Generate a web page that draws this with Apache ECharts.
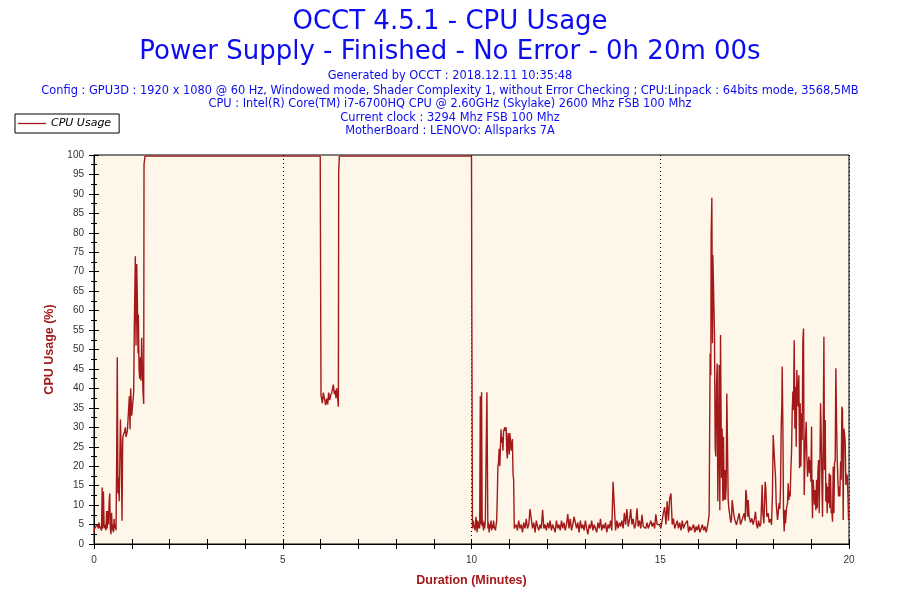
<!DOCTYPE html>
<html>
<head>
<meta charset="utf-8">
<script src="https://cdn.jsdelivr.net/npm/echarts@6/dist/echarts.min.js"></script>
<style>html,body{margin:0;padding:0;background:#fff}#chart{width:900px;height:600px}</style>
</head>
<body>
<div id="chart"></div>
<script>
// ---- Text ----
const mainTitle = 'OCCT 4.5.1 - CPU Usage';
const subTitle = 'Power Supply - Finished - No Error - 0h 20m 00s';
const infoLines = [
  'Generated by OCCT : 2018.12.11 10:35:48',
  'Config : GPU3D : 1920 x 1080 @ 60 Hz, Windowed mode, Shader Complexity 1, without Error Checking ; CPU:Linpack : 64bits mode, 3568,5MB',
  'CPU : Intel(R) Core(TM) i7-6700HQ CPU @ 2.60GHz (Skylake) 2600 Mhz FSB 100 Mhz',
  'Current clock : 3294 Mhz FSB 100 Mhz',
  'MotherBoard : LENOVO: Allsparks 7A'
];
const seriesName = 'CPU Usage';
const xAxisName = 'Duration (Minutes)';
const yAxisName = 'CPU Usage (%)';
const xLabelMinutes = [0, 5, 10, 15, 20];

// ---- Data: [seconds, CPU usage %] ----
const rampUp = [[0,3],[1,4],[2,3.5],[3,4.5],[4,4],[5,5],[6,4.5],[7,4],[8,5.5],[9,4.5],[10,4],[11,4.5],[12,3.5],[13,14.5],[14,4],[15,13.5],[16,5],[17,4],[18,5],[19,3.5],[20,8.5],[21,4],[22,8.5],[23,5],[24,10.5],[25,13],[26,4],[27,2.5],[28,8],[29,3.5],[30,5],[31,3],[32,6.5],[33,4],[34,5],[35,3.5],[36,21],[37,48],[38,13],[39,17],[40,11],[41,20],[42,32],[43.5,22],[44.5,6],[45.6,27],[46.6,28],[47.7,27.5],[48.8,29],[49.8,30],[50.9,27.5],[52,28],[53,29],[54,29.5],[55,29],[56.2,38],[57.3,29.5],[58.3,40],[59.9,33],[61.5,36],[63.1,39],[64.1,56],[65.7,74],[66.8,51],[67.9,72],[68.9,63],[70,49],[70.5,59],[71.6,45],[72.6,42.5],[73.7,48],[74.7,42],[75.8,53],[76.9,45],[77.9,39],[79,36],[79.5,97.5],[81,99.7]];
const loadA = [[200,99.7],[359.6,99.7],[359.7,91]];
const dipB = [[360.8,38.3],[361.9,38.3],[362.9,36.2],[364.5,38.9],[366.1,37.5],[368.2,35.7],[369.8,37.4],[371.4,35.9],[373,38.9],[374.6,37],[376.2,38.3],[377.8,38.9],[379.3,40],[380.4,41],[382,38.5],[383.6,39.5],[384.6,37.5],[385.7,40],[387.3,37.5],[388.4,35.3],[388.9,95.7],[390,99.7]];
const loadC = [[500,99.7],[600,99.7],[600.5,61],[601.5,4]];
const afterLoad = [[603,6],[604,4.5],[605,5],[606,3.5],[607,7],[608,5.5],[609,3],[610,6],[611,4],[612,5.5],[613,4],[614,38],[615,5],[616,39],[617,4.5],[618,6],[619,3.5],[620,5.5],[621,4],[622,6],[623,20],[624.5,39],[626,4],[627,5.5],[628,3],[629,5],[630,4],[631,6],[632,3.5],[633,5],[634,4],[635,6],[636,4.5],[637,5],[638,3.5],[639,4],[640,6],[641,12],[642,20],[643,21],[644,24.5],[645,20],[646,25],[647,29.5],[648,26],[649,27.5],[650,24],[651,29],[652,28.5],[653,30],[654,29],[655,30],[656,24],[657,22],[658,28.5],[659,27],[660,23],[661,28.5],[662,28],[663,24],[664,26],[665,27],[666,18],[667,16.5],[668,4]];
const idle = [[669,4],[671,5],[673,3.5],[675,6],[677,4],[679,5],[681,3],[683,5.5],[685,4],[687,6.5],[689,4],[691,5],[693,9],[695,8.5],[697,4],[699,5.5],[701,3],[703,6],[705,4.5],[707,3.5],[709,5],[711,4],[713,8.8],[715,4],[717,5],[719,3.5],[721,5.5],[723,4],[725,6],[727,3.5],[729,5],[731,4.5],[733,3],[735,6],[737,4],[739,5],[741,3.5],[743,6],[745,4],[747,5.5],[749,3.5],[751,5],[753,7.7],[755,4],[757,6.5],[759,3.5],[761,5],[763,7],[765,7.5],[767,4],[769,5.5],[771,3],[773,6],[775,4],[777,5],[779,3.5],[781,6],[783,4],[785,2.5],[787,5],[789,4],[791,6],[793,3.5],[795,5],[797,4.5],[799,3],[801,5.5],[803,4],[805,6.5],[807,3.5],[809,5],[811,4],[813,5.5],[815,3],[817,5],[819,4],[821,6],[823,3.5],[825,16],[827,15.5],[829,3.5],[831,6],[833,4],[835,5.5],[837,4.5],[839,6],[841,4],[843,8],[845,5],[847,9],[849,4.5],[851,6],[853,9],[855,5],[857,6.5],[859,4],[861,5],[863,9.2],[865,4.5],[867,6],[869,4],[871,7.5],[873,4.5],[875,5],[877,4],[879,5.5],[881,4],[883,5],[885,6],[887,4.5],[889,5.5],[891,4],[893,7.6],[895,5],[897,4.5],[899,5],[901,4],[903,6],[905,8],[907,9.5],[909,5],[911,11],[913,6],[915,11.7],[917,13],[919,5],[921,6.5],[923,4],[925,5],[927,6],[929,4],[931,5.5],[933,3.5],[935,6],[937,4],[939,5],[941,4.5],[943,6],[945,3],[947,4.5],[949,3.5],[951,4],[953,5],[955,3],[957,4.5],[959,3.5],[961,5],[963,3],[965,4],[967,5],[969,3.5],[971,4.5],[973,3],[975,4.5],[977.7,7.5]];
const burst = [[979.3,49],[980.4,43.4],[980.9,79],[982,89],[983,51.6],[983.6,74.3],[985.2,74],[986.2,54],[987.3,25],[988.3,22.5],[989.4,41],[990.5,46.4],[991.5,11],[992.6,26],[993.6,46],[994.7,8.7],[995.8,53.7],[996.8,54],[997.4,17],[998.4,29.7],[999.5,11],[1000.5,27.6],[1001.6,11.4],[1002.7,19],[1003.7,11.4],[1004.8,14.7],[1005.8,38.7],[1006.9,38.3],[1008,11.3],[1009,9.2],[1010.1,7.9],[1011.1,6.6],[1012.2,5.5],[1013.3,6.6],[1014.3,11.3],[1015.9,11.3],[1017,7.5],[1018.6,6.2],[1021.2,4.9],[1023.9,4.5],[1025.4,7.9],[1027.6,5],[1029.2,5.3],[1030.7,4.5],[1033.4,7.9],[1035,6],[1036,13.9],[1037.1,12.6],[1038.7,7],[1039.8,11.3],[1041.3,7],[1043.5,5.5],[1045.6,6.6],[1047.7,5],[1049.8,6.5],[1051.4,8.3],[1053,5],[1054.6,4],[1056.2,6],[1058.3,4.5],[1059.9,5.3],[1062,15.2],[1063.1,7.9],[1064.7,5.3],[1066.8,16],[1067.8,14.3],[1069.4,7],[1071.6,7.9],[1073.1,5.5],[1075.3,6.4],[1076.9,4.9],[1078.4,13.5],[1079.5,28],[1081.1,28],[1082.2,19.9],[1083.2,17.3],[1084.3,10.5],[1085.3,10.5],[1086.4,6.2],[1087.5,5.8],[1089,10.5],[1090.1,9],[1091.2,14.7],[1092.2,29.7],[1093.3,36.2],[1093.8,45.6],[1094.9,30.2],[1095.9,7.9],[1097,3.2],[1098.1,8.7],[1099.1,5.3],[1100.7,9.2],[1102.3,10.5],[1103.4,15.6],[1104.4,11.3],[1105.5,13.5],[1106.5,12.2],[1107.6,19],[1108.7,23.7],[1109.7,33.6],[1110.8,39.2],[1111.8,34.4],[1112.9,52.4],[1114,29.7],[1115,40.4],[1116.1,25],[1117.1,44.7],[1118.2,38.7],[1119.3,35.3],[1120.3,43.4],[1121.4,19.5],[1122.4,36.2],[1123.5,19.9],[1124.6,33.6],[1125.6,26.7],[1126.7,52.4],[1127.7,55.4],[1128.8,12.6],[1129.9,21.6],[1130.9,27.5],[1132,31.4],[1133,22.5],[1134.1,17.3],[1135.2,19.9],[1136.2,22.5],[1137.3,18.2],[1138.3,21.6],[1139.4,16],[1140.5,30.2],[1141,16],[1142,6.6],[1143.1,16.5],[1144.2,13],[1145.2,10.1],[1146.3,13.9],[1147.3,8.7],[1148.4,16.5],[1149.5,9.2],[1150.5,18.2],[1151.6,21.6],[1152.6,7.9],[1153.7,19.9],[1154.8,36.2],[1155.8,28.4],[1156.9,16],[1157.9,7],[1159,26.3],[1160.1,53.3],[1161.1,19],[1162.2,31.9],[1163.2,10.9],[1164.3,15.6],[1165.4,7.9],[1166.4,14.7],[1167.5,10.5],[1168.5,18.2],[1169.6,9.2],[1170.7,17.8],[1171.7,7.9],[1172.8,8.7],[1173.8,5.7],[1174.9,19.9],[1176,7.9],[1177,20.8],[1178.1,21.6],[1179.1,45.2],[1180.2,31.9],[1181.3,21.6],[1182.3,16.5],[1183.4,12.2],[1184.4,14.7],[1185.5,12.2],[1186.6,21.2],[1187.6,16.5],[1188.7,35.3],[1189.7,34.4],[1190.8,6.2],[1191.9,29.7],[1192.9,28.4],[1194,25.9],[1195,15.2],[1196.1,18],[1197.2,17.3],[1198.2,13],[1199.3,6.2]];

const trace = [].concat(rampUp, loadA, dipB, loadC, afterLoad, idle, burst)
  .map(p => [p[0] / 60, p[1]]);

const chart = echarts.init(document.getElementById('chart'));
const blue = '#0c0cf0';
const red = '#a31919';
const axisBlack = '#000';
const titles = [
  { text: mainTitle, left: 'center', top: 9, padding: 0,
    textStyle: { color: blue, fontSize: 26, fontWeight: 'normal', fontFamily: 'DejaVu Sans' } },
  { text: subTitle, left: 'center', top: 39, padding: 0,
    textStyle: { color: blue, fontSize: 26, fontWeight: 'normal', fontFamily: 'DejaVu Sans' } }
];
const infoTops = [70.5, 85.5, 98.5, 112.5, 125.5];
infoLines.forEach((t, i) => titles.push({
  text: t, left: 'center', top: infoTops[i], padding: 0,
  textStyle: { color: blue, fontSize: 11.4, fontWeight: 'normal', fontFamily: 'DejaVu Sans' }
}));

const tickLabelStyle = { color: '#333', fontSize: 10, fontFamily: 'Liberation Sans' };
const nameStyle = { color: red, fontSize: 12.5, fontWeight: 'bold', fontFamily: 'Liberation Sans' };

chart.setOption({
  animation: false,
  backgroundColor: '#fff',
  title: titles,
  legend: {
    data: [{ name: seriesName, icon: 'rect', itemStyle: { color: red, borderWidth: 0 } }],
    left: 15, top: 114, orient: 'horizontal',
    backgroundColor: '#fff', borderColor: '#000', borderWidth: 1, borderRadius: 0,
    padding: [4, 8, 4, 3], itemWidth: 28, itemHeight: 1.3, itemGap: 5,
    textStyle: { color: '#000', fontSize: 11, fontStyle: 'italic', fontFamily: 'DejaVu Sans' }
  },
  grid: { left: 94, right: 51, top: 155, bottom: 56, show: true,
    backgroundColor: '#fef7e9', borderColor: '#000', borderWidth: 1, containLabel: false },
  xAxis: [
    { type: 'value', min: 0, max: 20, interval: 1, position: 'bottom',
      name: xAxisName, nameLocation: 'middle', nameGap: 30, nameTextStyle: nameStyle,
      axisLine: { show: true, lineStyle: { color: axisBlack, width: 1 } },
      axisTick: { show: true, length: 5, inside: false, lineStyle: { color: axisBlack } },
      axisLabel: { margin: 11, ...tickLabelStyle,
        formatter: v => xLabelMinutes.indexOf(v) >= 0 ? String(v) : '' },
      splitLine: { show: false } },
    { type: 'value', min: 0, max: 20, interval: 1, position: 'bottom',
      axisLine: { show: false }, axisLabel: { show: false },
      axisTick: { show: true, length: 5, inside: true, lineStyle: { color: axisBlack } },
      splitLine: { show: false } },
    { type: 'value', min: 0, max: 20, interval: 5, position: 'bottom',
      axisLine: { show: false }, axisLabel: { show: false }, axisTick: { show: false },
      splitLine: { show: true, lineStyle: { color: '#000', type: [1, 3], width: 1 } } }
  ],
  yAxis: [
    { type: 'value', min: 0, max: 100, interval: 5, position: 'left',
      name: yAxisName, nameLocation: 'middle', nameGap: 34, nameRotate: 90, nameTextStyle: nameStyle,
      axisLine: { show: true, lineStyle: { color: axisBlack, width: 1 } },
      axisTick: { show: true, length: 5, inside: false, lineStyle: { color: axisBlack } },
      minorTick: { show: true, splitNumber: 2, length: 3, lineStyle: { color: axisBlack } },
      axisLabel: { margin: 10, ...tickLabelStyle },
      splitLine: { show: false } },
    { type: 'value', min: 0, max: 100, interval: 5, position: 'left',
      axisLine: { show: false }, axisLabel: { show: false },
      axisTick: { show: true, length: 5, inside: true, lineStyle: { color: axisBlack } },
      minorTick: { show: true, splitNumber: 2, length: 3, lineStyle: { color: axisBlack } },
      splitLine: { show: false } }
  ],
  series: [{
    name: seriesName, type: 'line', xAxisIndex: 0, yAxisIndex: 0,
    data: trace, symbol: 'none', showSymbol: false, smooth: false,
    lineStyle: { color: red, width: 1.4 }, itemStyle: { color: red },
    clip: true
  }]
});
</script>
</body>
</html>
